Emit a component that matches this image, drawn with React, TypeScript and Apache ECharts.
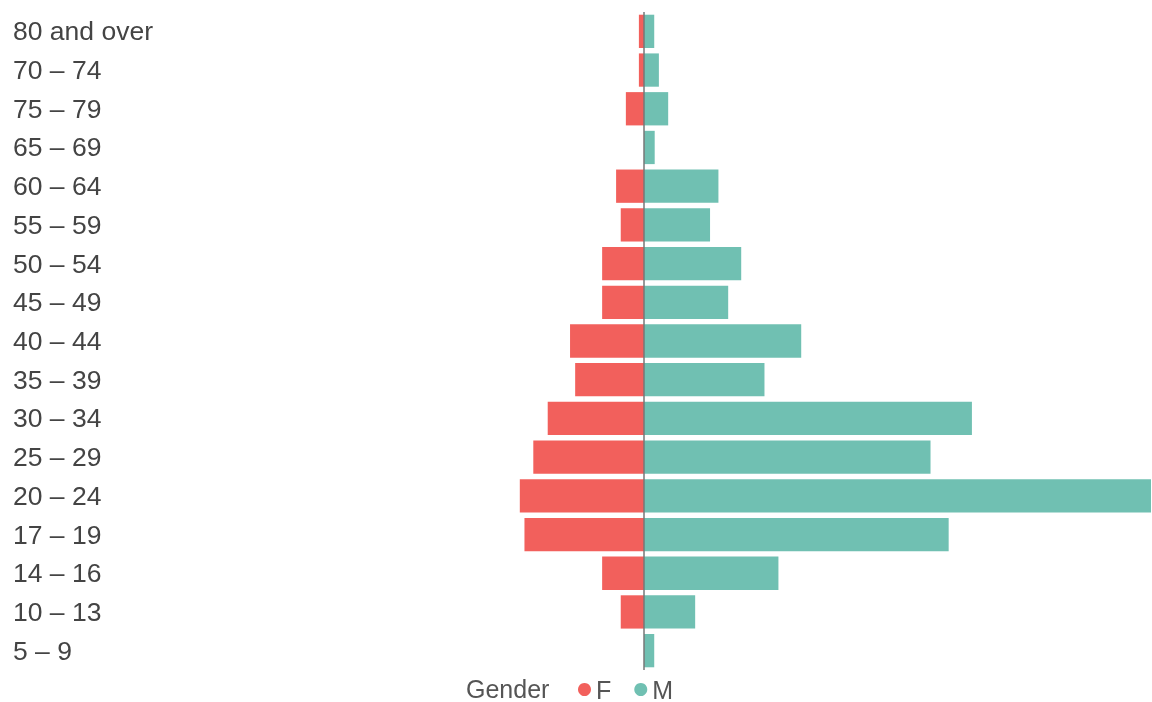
import React, { useEffect, useRef } from "react";
import * as echarts from "echarts";

const categories = [
  "80 and over", "70 – 74", "75 – 79", "65 – 69", "60 – 64", "55 – 59",
  "50 – 54", "45 – 49", "40 – 44", "35 – 39", "30 – 34", "25 – 29",
  "20 – 24", "17 – 19", "14 – 16", "10 – 13", "5 – 9",
];
const femaleValues = [1.1, 1.1, 3.9, 0, 6.0, 5.0, 9.0, 9.0, 15.9, 14.8, 20.7, 23.8, 26.7, 25.7, 9.0, 5.0, 0];
const maleValues = [2.2, 3.2, 5.2, 2.3, 16.0, 14.2, 20.9, 18.1, 33.8, 25.9, 70.5, 61.6, 109.0, 65.5, 28.9, 11.0, 2.2];
const legendTitle = "Gender";
const axisMax = 109;

const FONT = "'Liberation Sans', Arial, sans-serif";

export default function App() {
  const ref = useRef<HTMLDivElement>(null);
  useEffect(() => {
    if (!ref.current) return;
    const chart = echarts.init(ref.current, null, { renderer: "svg" });
    chart.setOption({
      animation: false,
      grid: { left: 137, right: 1, top: 12, height: 658, containLabel: false },
      xAxis: {
        type: "value",
        min: -axisMax,
        max: axisMax,
        show: false,
        splitLine: { show: false },
      },
      yAxis: {
        type: "category",
        inverse: true,
        data: categories,
        axisLine: { show: false },
        axisTick: { show: false },
        splitLine: { show: false },
        axisLabel: {
          align: "left",
          margin: 124,
          color: "#444",
          fontSize: 26.5,
          fontFamily: FONT,
        },
      },
      graphic: [
        {
          type: "text",
          left: 466,
          top: 676,
          style: {
            text: legendTitle,
            fill: "#555",
            fontSize: 25,
            fontFamily: FONT,
          },
        },
      ],
      legend: {
        data: ["F", "M"],
        left: 578,
        top: 677,
        padding: 0,
        icon: "circle",
        itemWidth: 13,
        itemHeight: 13,
        itemGap: 23,
        textStyle: { color: "#555", fontSize: 25, fontFamily: FONT },
      },
      series: [
        {
          name: "F",
          type: "bar",
          data: femaleValues.map((v) => -v),
          barGap: "-100%",
          barCategoryGap: "14%",
          itemStyle: { color: "#F2605C" },
          markLine: {
            silent: true,
            symbol: "none",
            label: { show: false },
            lineStyle: { color: "#777", width: 1.5, type: "solid" },
            data: [{ xAxis: 0 }],
          },
        },
        {
          name: "M",
          type: "bar",
          data: maleValues,
          barGap: "-100%",
          barCategoryGap: "14%",
          itemStyle: { color: "#70C0B2" },
        },
      ],
    });
    return () => chart.dispose();
  }, []);
  return (
    <div
      ref={ref}
      style={{ position: "fixed", left: 0, top: 0, width: 1152, height: 702 }}
    />
  );
}
